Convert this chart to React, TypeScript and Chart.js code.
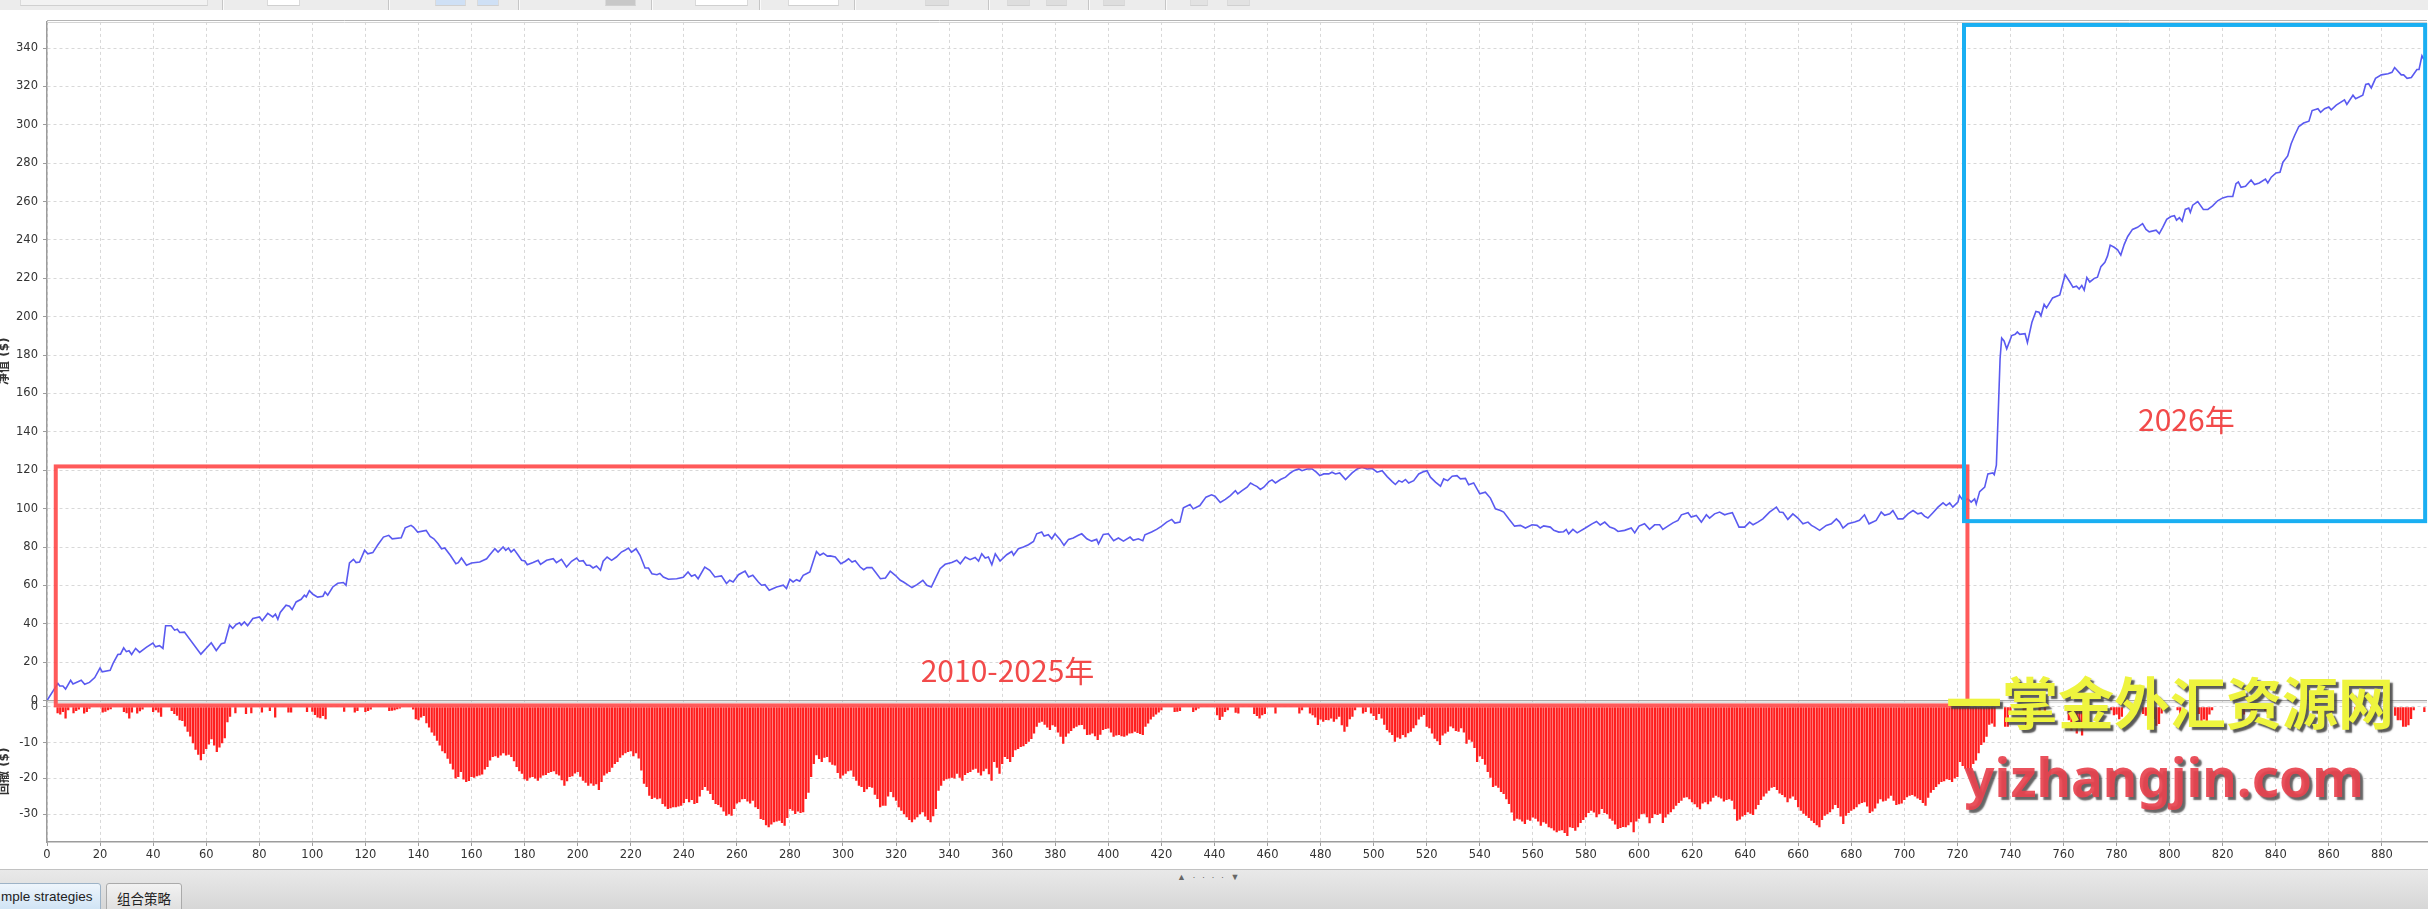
import React, { useEffect, useRef } from "react";
import { Chart, registerables } from "chart.js";

Chart.register(...registerables);

// ---------- data ----------
// equity curve: [trade number, net value $]
const equityCurve: [number, number][] = [
  [0,0],[4.1,9],[4.8,7.6],[6,7.6],[7,6],[8.9,10.6],[9.8,8.7],[12.9,10.6],[14.2,8.5],[16,9.5],[18,12],[20,17],[20.8,15],[23.8,15.8],[24.9,19.4],[26.7,24],[27.7,24.2],[28.9,27.5],[29.9,25.5],[30.9,26],[31.9,24],[33.4,27.2],[34.9,25.1],[37.4,27.7],[39.9,30],[40.9,28],[42.4,28.6],[43.7,27.2],[44.7,39],[46.8,39],[48.1,36.7],[49.1,37.2],[50,35.5],[51.8,35.7],[58,24.2],[61.9,30.1],[63.8,26.1],[65.7,29.6],[67,30.1],[68.8,39.3],[70,37.6],[71.3,39.7],[72.6,40.5],[73.2,39.3],[74.4,41],[75.6,39],[77.6,42.8],[80.1,43.6],[81.1,41.6],[83.2,45.4],[85.1,43.6],[86.1,45],[87,42.3],[87.9,45.9],[90.1,49.7],[91.4,49.2],[92.4,47.4],[93.9,51.4],[95.8,52.8],[97,54.9],[97.7,54],[98.9,57.3],[100.2,55.4],[102,53.9],[104,54.4],[104.8,56.6],[105.8,54.9],[107.7,59.2],[109.6,61.1],[111.7,61.5],[112.7,60.1],[114,71.7],[115.5,73.6],[116.5,71.9],[117.8,72.2],[119.7,78.3],[120.9,76.5],[122.8,77.1],[124.7,81.2],[126.8,85.2],[128.8,86.1],[130.1,84.3],[133.5,84.8],[135,90],[137.2,91.3],[138.1,90.4],[139.7,87.8],[142.9,88.7],[144.4,85.5],[145.8,84.3],[147.4,81.7],[148.7,79.1],[149.9,79.5],
  [152,75.7],[154.1,71.3],[155,71.9],[156.2,74.3],[158.1,70.5],[160,71.7],[163.1,72.2],[165.7,73.9],[166.9,76],[168.8,79.1],[170,77.4],[171.9,80],[172.9,78.3],[173.9,79.5],[174.9,77.4],[176,78.8],[177.6,75.7],[178.9,73.1],[180.1,72.7],[181,70.8],[183.2,71.9],[185.1,73.1],[186,71],[188.3,73.1],[190.8,73.9],[192,71.9],[193.9,73.6],[195.8,69.6],[197.7,72.6],[199.6,74.3],[200.6,72.6],[202.1,72.9],[203.3,70.5],[204.6,70.5],[205.8,69.1],[207.1,70.1],[208.6,67.9],[209.6,72.6],[211.1,74.8],[212.8,73.1],[214.6,74.8],[216.5,77.4],[217.8,78.3],[219.1,79.5],[220.3,77.4],[222,79.1],[223.5,75.7],[225.4,69.1],[226.7,69.1],[228,66.1],[229.9,65.6],[231,66.3],[232.3,64.4],[234.2,63.2],[237.3,63.5],[239.8,64.2],[241.6,67],[242.9,64.8],[244.2,65.6],[245.4,63.5],[247.9,69.6],[249.8,67.9],[251.7,64.4],[254.2,65],[256.1,61],[257.3,62.7],[258.6,61.8],[260.6,65.6],[263.1,67.5],[264.4,64.4],[266,65.3],[268.1,61.8],[269.3,60.1],[270.6,60.4],[272.2,57.5],[275,59.2],[277.5,60.1],[278.7,58.4],[280,63.2],[281.2,61.8],[282.5,63],[283.7,62.2],[285,65.3],[286.2,66.1],[287.5,67],[288.8,72.6],[290,77.7],[291.3,75.7],[292.6,76.8],[294.1,75.3],[295.2,75.4],[297.1,74.8],[299.2,71.3],
  [300.9,72.6],[302.1,73.9],[303.4,72.2],[304.6,72.9],[306.5,69.6],[307.8,68.2],[309,69.3],[310.9,69.3],[312.2,67],[314.1,63.5],[316,63.9],[317.8,67.4],[319.7,65.3],[321.6,62.7],[322.8,61.8],[324.3,60.4],[326,58.9],[327.9,60.4],[330.1,62.7],[331.6,60.1],[333.3,59.2],[334.8,63.5],[336.6,68.7],[338.5,71],[341,71.9],[342.9,73.1],[344.2,71.3],[346.1,74.8],[347.9,73.4],[349.8,74.6],[351.1,72.7],[352.3,76.5],[353.6,74.3],[354.8,74.8],[356.1,70.8],[357.4,76.5],[359.2,72.7],[361.7,76],[363.6,77.7],[364.3,75.7],[366.1,79.1],[368,80],[369.9,81.2],[371.8,82.9],[373,86.9],[374.9,87.8],[375.8,85.7],[377.4,86.4],[378.7,84.3],[379.9,86.9],[381.8,84],[383.3,80.9],[385,84],[386.8,84.7],[388.7,86.1],[390,86.9],[391.9,84.3],[393.7,83.1],[395.6,84],[396.3,81.7],[398.1,86.6],[400,86.9],[402,83.3],[403.8,84.7],[405.7,83.1],[408.2,85.2],[409.4,83.5],[411.3,84.3],[413,83.3],[413.8,86.4],[416.3,87.8],[418.2,89.2],[420.1,90.9],[422,93],[423.9,94.4],[425.1,92.5],[427,93],[428.3,100.4],[430.8,102.2],[432,99.9],[434.5,101.6],[436.8,106],[438.9,107.2],[440.2,106.5],[442.2,103.2],[444.1,104.8],[446,106.8],[447.9,109.4],[448.8,107.7],
  [450.4,109.4],[452.3,111.2],[453.6,113.4],[454.8,112.4],[456.1,111.5],[457.3,110],[458.6,111.2],[460.5,114.1],[461.7,115],[463,113.4],[464.9,115.2],[466.8,116.4],[468.6,118.6],[469.9,119.8],[471.8,120.7],[473,119.8],[474.9,120.7],[476.8,120.7],[478.4,119],[479.7,117.2],[481.2,118.1],[483.1,118.1],[484.3,119],[485.6,118.1],[487.2,118.6],[489.4,115.2],[491.9,118.6],[493.8,120.7],[495.6,121.6],[497.5,120.7],[499.4,121],[501.3,119],[503.2,119.8],[505.1,116.7],[507,114.1],[508.2,112.6],[509.5,114.6],[510.7,113.8],[512,115.2],[513.2,113.4],[515.1,114.6],[517,118.1],[518.9,119.3],[520.1,119.8],[521.4,116.4],[523.3,113.8],[525.2,111.7],[526.4,115.5],[527.9,114.6],[529.6,116.9],[531.4,117.2],[532.7,115.5],[534.6,115.8],[535.8,112.4],[537.7,113.4],[540,107.7],[542.1,108.6],[544,105.5],[545.9,99.9],[547.8,99],[549,98.2],[550.9,94.7],[553.1,90.9],[555.3,91.3],[557.2,89.9],[559.7,91.6],[561.6,91.3],[562.8,89.9],[564.1,91],[566.6,90.4],[567.9,88.7],[569.8,87.8],[571.6,88],[572.6,89.2],[573.5,86.9],[575.1,89.2],[576.7,87.4],[579.8,89.9],[582.3,92.1],[584,93.3],[585.4,91.5],[587.1,93],[589,90.4],[590.8,89.5],[592.1,88.1],[594.6,88.7],[597.1,89.9],[598.4,87.4],
  [600,90.9],[602.1,92.1],[604,89.2],[605.9,91.6],[607.8,91.6],[609,89.2],[610.9,90.9],[612.8,92.6],[614.7,93.9],[616,96.8],[618.5,97.9],[619.7,95.6],[621.6,96.5],[623.5,93],[625.4,96.8],[626.6,95.1],[628.5,97.3],[630.4,98.2],[632.3,96.8],[633.5,97.3],[635.2,97.9],[637.7,90.4],[639.8,90.4],[641.7,93],[643,91.6],[644.8,93],[646.7,94.7],[649.2,98.2],[651.8,100.8],[653,98.2],[654.3,98],[656.1,94.4],[658,97.3],[659.9,95.1],[661.8,92.1],[663.7,93],[665,91.3],[666.2,90.4],[668.1,88.7],[670.6,91.3],[672.5,92.1],[674.4,94.7],[675.6,93],[676.9,89.9],[678.8,92.1],[681.3,93],[683.1,93.9],[685,96.8],[686.7,92.1],[689.4,93.9],[691.3,98.2],[692.6,96.5],[694.5,97.3],[695.7,99],[697.6,94.7],[699.5,94.7],[701.4,97.3],[703.3,99],[705.1,97.3],[706.4,97.8],[707.6,96.1],[708.9,95.1],[710.8,97.9],[712.7,100.8],[714.6,103],[715.8,101.6],[717.1,103],[718.3,100.8],[720.2,103.4],[720.8,106.8],[722.1,104.3],[724,105.1],[725.2,103.4],[726.5,105.1],[727.1,102.5],[728.4,108.9],[730.3,111.2],[731.5,118.1],[733.4,118.6],[733.9,117.7],[734.7,122.7],
  [735.5,154],[736.1,178.1],[736.7,188.9],[737.6,187.4],[738.6,183.3],[740.5,190.2],[741.8,190.8],[742.6,192.1],[743.5,190.8],[745.5,191.2],[746.4,186.5],[748.1,197.1],[749.6,202.7],[750.8,202.3],[751.5,200.5],[752.7,206.4],[753.6,204.6],[755.9,209.8],[758.6,211.3],[760.6,221.9],[762.4,218.1],[763.6,215.3],[764.9,215.9],[765.9,214.4],[766.9,216.3],[767.8,213.9],[768.8,220.4],[769.9,218.1],[771.6,220],[772.8,220.6],[774.1,226.1],[775.6,228.4],[776.6,231.7],[777.6,237.3],[779.1,236.2],[780.4,234.9],[781.6,232.1],[782.9,237.7],[784.2,241.8],[786,245.5],[787.9,246.6],[789.8,248.5],[791.1,245.5],[792.3,244.2],[794.9,245.1],[796.1,243.3],[797.4,246.6],[798.9,250.7],[800.5,252.2],[801.8,252.6],[802.6,250.3],[803.7,251.6],[804.7,249.8],[805.9,255.9],[807.2,256.6],[807.8,254.4],[808.7,258.1],[810.6,260],[812.7,255.9],[814.4,255.9],[816.2,257.8],[818.1,260.4],[820,261.9],[821.9,262.6],[823.8,262.6],[825,269.3],[825.9,270.2],[826.9,267.4],[828.6,268],[830.7,271.2],[832,268.9],[833.8,269.7],[836.1,271.7],[837,269.7],[838.3,272.7],[840.1,274.9],[841.6,275.3],[842.7,280.5],[844.5,283.8],[845.8,290.1],[847.1,294.4],[848.7,299.1],[850.5,300.9],[852.5,301.9],[853.7,307.4],[855.9,308.4],[856.9,306.5],[858.4,308.4],[860,309.3],[860.9,307.8],[862.8,310.2],[865.9,313],[866.8,310.6],[869.1,315.4],[870.1,313.6],[872.8,315.4],[873.9,321],[875,321.4],[876,319.2],[877.6,324.2],[879.8,326],[882.3,326.6],[883.8,327.3],[884.8,329.8],[887.3,326],[888.2,326],[889.5,324.2],[891.1,324.6],[893.2,328.8],[894,328.8],[895.1,335.9],[895.7,334.4],[896.7,336.3],
];

// drawdown per trade ($), index = trade number 0..896
const drawdown: number[] = [
  0,0,0,0,-1.8,-2.2,-1.5,-3.3,-1.0,0,
  -1.8,-1.2,-0.8,0,-1.9,-1.5,-0.6,0,0,0,
  0,-1.6,-1.4,-1.0,-0.7,0,0,0,0,-1.5,
  -1.8,-3.3,-1.6,0,-1.9,-1.3,-0.8,0,0,0,
  -1.5,-1.0,-1.6,-2.8,0,0,0,-1.2,-2.0,-2.5,
  -3.8,-4.0,-5.5,-7.0,-8.3,-10.2,-12.0,-13.4,-14.9,-13.2,
  -11.8,-10.5,-9.1,-10.8,-12.6,-11.4,-10.2,-8.8,-4.3,-2.8,
  0,-1.8,0,0,0,-2.0,0,-1.8,0,0,
  0,-1.6,0,0,-1.2,0,-3.0,0,0,0,
  0,-1.6,-1.6,0,0,0,0,0,-1.5,0,
  -1.4,-2.3,-3.0,-3.2,-2.6,-3.5,0,0,0,0,
  0,0,-1.4,0,0,0,-1.6,-1.2,0,0,
  -1.5,-1.2,-0.8,0,0,0,0,0,0,-1.2,
  -1.1,-1.0,-0.7,-0.5,0,0,0,0,-0.8,-3.5,
  -3.8,-3.0,-2.6,-4.6,-5.8,-7.2,-8.1,-9.5,-10.8,-12.4,
  -13.0,-14.5,-15.9,-17.5,-20.0,-19.6,-18.2,-20.3,-21.0,-20.7,
  -19.6,-19.8,-19.4,-19.2,-18.9,-17.5,-16.8,-15.0,-14.0,-13.8,
  -14.2,-13.6,-13.0,-13.6,-13.4,-14.0,-15.2,-16.8,-18.0,-18.7,
  -20.2,-20.6,-19.8,-19.6,-20.0,-20.6,-19.8,-19.2,-19.0,-18.5,
  -18.2,-18.0,-18.8,-19.2,-20.5,-22.0,-20.8,-19.6,-19.4,-18.6,
  -18.2,-19.5,-20.6,-21.2,-22.0,-21.4,-22.0,-21.6,-23.2,-21.0,
  -19.2,-18.6,-18.2,-17.0,-16.0,-15.4,-14.2,-13.5,-13.0,-12.6,
  -12.4,-13.8,-13.0,-14.4,-17.8,-21.5,-22.4,-24.8,-25.7,-25.4,
  -25.8,-25.6,-27.1,-27.8,-28.5,-28.3,-28.0,-28.0,-27.8,-27.6,
  -26.8,-25.7,-26.6,-26.0,-27.1,-26.8,-25.0,-23.2,-22.4,-23.4,
  -24.3,-26.0,-27.1,-27.4,-28.0,-29.2,-30.4,-30.0,-30.4,-28.5,
  -27.0,-26.6,-25.8,-25.7,-26.4,-27.0,-26.2,-28.0,-28.5,-31.3,
  -31.6,-33.0,-33.6,-32.8,-32.2,-32.0,-31.8,-32.4,-33.2,-31.0,
  -28.5,-29.0,-29.9,-29.2,-29.6,-29.4,-25.7,-24.0,-19.6,-16.0,
  -13.5,-14.6,-15.4,-14.2,-14.0,-15.5,-16.2,-16.4,-18.5,-20.0,
  -19.2,-18.7,-18.0,-17.8,-19.5,-20.6,-22.0,-22.4,-23.8,-23.0,
  -22.4,-22.6,-24.5,-25.7,-28.0,-27.6,-27.6,-25.0,-23.8,-25.2,
  -26.2,-28.0,-29.0,-30.0,-30.8,-31.6,-32.2,-31.4,-30.8,-30.0,
  -29.4,-30.6,-31.6,-32.2,-30.5,-28.5,-23.4,-22.0,-20.6,-20.2,
  -20.0,-19.8,-20.0,-18.7,-19.8,-20.6,-19.0,-18.5,-18.2,-17.6,
  -17.3,-18.4,-19.2,-18.0,-17.3,-18.8,-20.6,-15.4,-17.0,-18.7,
  -16.0,-14.0,-14.6,-15.4,-14.0,-12.1,-11.8,-11.2,-11.0,-10.4,
  -9.8,-9.0,-7.5,-5.6,-4.5,-4.2,-5.0,-5.8,-6.5,-5.2,
  -5.6,-7.2,-8.4,-10.3,-8.4,-7.5,-6.8,-6.0,-5.6,-5.2,
  -5.1,-6.3,-7.9,-7.8,-7.5,-8.2,-9.3,-7.8,-6.5,-6.2,
  -6.1,-7.2,-8.4,-8.0,-7.9,-8.2,-8.4,-8.0,-7.5,-7.4,
  -7.0,-7.3,-7.6,-7.9,-5.6,-4.7,-3.6,-2.8,-2.2,-1.6,
  -1.0,0,0,0,0,-1.5,-1.4,-1.2,0,0,
  0,0,-1.5,-1.0,-0.5,0,0,0,0,0,
  0,-2.4,-3.7,-2.8,-1.5,-1.0,0,0,-1.7,-1.9,
  0,0,0,0,0,-2.0,-2.6,-3.3,-2.4,-2.0,
  0,0,0,-1.9,0,0,0,0,0,0,
  0,0,-1.9,-1.0,0,0,-1.9,-2.4,-3.0,-5.1,
  -3.6,-4.2,-3.7,-3.8,-3.3,-4.2,-3.5,-2.8,-5.2,-7.0,
  -5.6,-3.5,-2.8,-1.0,0,0,-1.9,-1.5,0,-1.9,
  -2.6,-3.7,-2.0,-3.3,-5.0,-6.5,-7.2,-7.9,-9.8,-8.6,
  -8.9,-7.9,-8.5,-7.4,-7.0,-6.0,-5.2,-3.6,-2.8,-2.3,
  -5.6,-6.0,-7.5,-8.9,-9.6,-10.7,-8.0,-7.5,-7.0,-5.5,
  -6.0,-6.8,-7.0,-6.0,-7.2,-10.3,-9.2,-9.8,-11.5,-15.4,
  -13.8,-14.6,-16.2,-18.2,-19.8,-22.4,-22.0,-22.6,-23.8,-24.3,
  -25.8,-27.1,-29.5,-31.8,-31.2,-31.4,-32.0,-32.7,-31.5,-31.8,
  -30.9,-31.2,-32.0,-33.2,-32.2,-32.6,-33.6,-33.9,-34.5,-35.0,
  -34.6,-34.4,-35.2,-36.0,-33.6,-33.8,-34.6,-33.6,-32.4,-31.6,
  -30.8,-29.6,-29.0,-29.5,-30.8,-30.0,-28.5,-29.6,-30.0,-31.2,
  -31.8,-32.8,-34.1,-33.8,-33.5,-33.6,-33.0,-32.2,-35.0,-32.0,
  -31.2,-30.0,-29.8,-30.8,-32.5,-31.0,-30.0,-30.2,-29.8,-32.4,
  -30.9,-30.0,-29.4,-28.6,-27.6,-26.8,-26.2,-25.4,-25.2,-25.8,
  -26.6,-27.2,-28.0,-28.6,-27.0,-26.6,-27.2,-26.4,-25.4,-24.8,
  -25.2,-25.6,-26.4,-26.0,-25.8,-26.2,-28.6,-31.8,-31.4,-30.6,
  -30.2,-29.4,-29.8,-30.2,-28.6,-27.4,-26.0,-25.0,-24.2,-23.4,
  -22.6,-22.4,-23.2,-24.2,-24.6,-25.2,-26.6,-25.6,-25.0,-26.0,
  -28.0,-29.0,-29.8,-30.4,-31.0,-31.8,-32.4,-33.0,-33.6,-31.6,
  -30.4,-30.0,-29.4,-28.6,-27.4,-28.2,-30.6,-32.7,-30.4,-29.6,
  -29.0,-28.6,-28.0,-27.2,-26.8,-26.6,-27.8,-29.6,-29.2,-28.4,
  -27.0,-25.8,-26.4,-26.2,-25.6,-24.8,-26.2,-27.4,-27.2,-27.0,
  -26.0,-25.2,-24.8,-24.6,-25.0,-25.6,-26.0,-26.8,-27.6,-25.4,
  -24.0,-23.2,-22.4,-21.6,-21.0,-20.8,-20.2,-20.4,-21.0,-20.0,
  -19.6,-15.4,-16.5,-17.2,-18.0,-18.8,-16.0,-15.0,-13.0,-10.7,
  -10.0,-8.4,-5.0,-4.7,-5.6,0,0,0,-5.6,-5.6,
  -2.0,0,0,0,0,-1.2,-5.6,0,0,0,
  0,-2.2,0,-1.8,0,0,0,0,0,0,
  0,0,-3.8,-6.6,-6.0,-7.5,-5.6,-8.0,-1.5,-1.8,
  0,0,0,0,0,0,0,0,-1.0,-2.4,
  -2.2,-3.5,-2.8,0,0,0,0,0,0,0,
  -2.0,-2.5,-3.9,-4.3,-3.4,-5.3,-4.8,-1.9,0,0,
  0,0,0,-1.0,-2.8,0,0,0,-2.2,0,
  0,-2.0,-4.1,-3.6,-4.1,-2.2,-1.0,0,0,0,
  0,0,0,0,0,0,0,-2.8,-2.2,0,
  0,-2.3,-1.5,0,0,0,-1.2,-2.0,0,0,
  0,0,0,0,0,0,0,0,0,0,
  0,0,0,0,0,0,-1.9,0,0,0,
  0,-1.5,0,0,0,0,-2.4,0,0,0,
  -1.8,0,0,0,0,0,-2.2,0,0,0,
  0,0,0,0,0,-2.5,-3.8,-3.8,-5.6,-5.6,
  -5.2,-3.4,-1.0,0,0,0,-1.5,
];

const xTickValues = [0,20,40,60,80,100,120,140,160,180,200,220,240,260,280,300,320,340,360,380,400,420,440,460,480,500,520,540,560,580,600,620,640,660,680,700,720,740,760,780,800,820,840,860,880];
const equityTickValues = [0,20,40,60,80,100,120,140,160,180,200,220,240,260,280,300,320,340];
const drawdownTickValues = [-30,-20,-10,0];

const equityTitle = "净值 ($)";
const drawdownTitle = "回撤 ($)";
const periodLabels = ["2010-2025年", "2026年"];
const watermarkCn = "一掌金外汇资源网";
const watermarkEn = "yizhangjin.com";
const tabLabels = ["mple strategies", "组合策略"];

// ---------- styling / layout ----------
const TICK_FONT = "'DejaVu Sans', 'Noto Sans', sans-serif";
const CJK_FONT = "'Noto Sans CJK SC', 'Noto Sans', sans-serif";
const LINE_COLOR = "#5a5af0";
const BAR_COLOR = "#ff1e1e";
const GRID_COLOR = "#d8d8d8";
const AXIS_COLOR = "#9c9c9c";

// annotation frames in data coordinates (trade number / $ on the equity axis)
const periodFrames = [
  { from: 3.3, to: 723.8, low: -2.5, high: 122, color: "rgba(255,72,72,0.9)" },
  { from: 722.5, to: 896.3, low: 93.5, high: 352, color: "#1aaff2" },
];
const periodLabelAnchors = [
  { x: 362, y: 15.7 },
  { x: 806.3, y: 146.5 },
];

const overlayPlugin = {
  id: "overlay",
  beforeDraw(chart: any) {
    const { ctx, width, height } = chart;
    ctx.save();
    ctx.fillStyle = "#ffffff";
    ctx.fillRect(0, 0, width, height);
    ctx.restore();
  },
  afterDraw(chart: any) {
    const { ctx, chartArea, scales } = chart;
    const x = scales.x;
    const y = scales.y;
    const dd = scales.yDD;
    ctx.save();

    // plot frame top (double gray line)
    ctx.strokeStyle = "#b4b4b4";
    ctx.lineWidth = 1;
    ctx.beginPath();
    ctx.moveTo(chartArea.left, Math.round(chartArea.top) - 1.5);
    ctx.lineTo(chartArea.right, Math.round(chartArea.top) - 1.5);
    ctx.stroke();
    ctx.strokeStyle = "#d4d4d4";
    ctx.beginPath();
    ctx.moveTo(chartArea.left, Math.round(chartArea.top) + 0.5);
    ctx.lineTo(chartArea.right, Math.round(chartArea.top) + 0.5);
    ctx.stroke();

    // separator between the two panes
    ctx.strokeStyle = "#a8a8a8";
    ctx.lineWidth = 1.2;
    ctx.beginPath();
    ctx.moveTo(chartArea.left, y.bottom);
    ctx.lineTo(chartArea.right, y.bottom);
    ctx.stroke();
    ctx.strokeStyle = "#dcdcdc";
    ctx.lineWidth = 1;
    ctx.beginPath();
    ctx.moveTo(chartArea.left, y.bottom + 2);
    ctx.lineTo(chartArea.right, y.bottom + 2);
    ctx.stroke();

    // period frames
    ctx.lineWidth = 4;
    for (const f of periodFrames) {
      const x0 = x.getPixelForValue(f.from);
      const x1 = x.getPixelForValue(f.to);
      const y0 = y.getPixelForValue(f.high);
      const y1 = y.getPixelForValue(f.low);
      ctx.strokeStyle = f.color;
      ctx.strokeRect(x0, y0, x1 - x0, y1 - y0);
    }

    // period labels
    ctx.fillStyle = "#f24a4a";
    ctx.font = `30px ${CJK_FONT}`;
    ctx.textAlign = "center";
    ctx.textBaseline = "middle";
    periodLabels.forEach((t, i) => {
      const a = periodLabelAnchors[i];
      ctx.fillText(t, x.getPixelForValue(a.x), y.getPixelForValue(a.y));
    });

    // axis titles (rotated, partly cut by the left edge)
    ctx.fillStyle = "#333333";
    ctx.font = `bold 12px ${TICK_FONT}, 'Noto Sans CJK SC'`;
    ctx.textAlign = "center";
    ctx.textBaseline = "alphabetic";
    const drawTitle = (text: string, cy: number) => {
      ctx.save();
      ctx.translate(8, cy);
      ctx.rotate(-Math.PI / 2);
      ctx.fillText(text, 0, 0);
      ctx.restore();
    };
    drawTitle(equityTitle, (y.top + y.bottom) / 2);
    drawTitle(drawdownTitle, (dd.top + dd.bottom) / 2);

    // watermark
    ctx.textAlign = "center";
    ctx.shadowColor = "rgba(60,60,60,0.85)";
    ctx.shadowOffsetX = 3;
    ctx.shadowOffsetY = 3;
    ctx.shadowBlur = 1.5;
    ctx.font = `bold 56px ${CJK_FONT}`;
    ctx.fillStyle = "#eef43e";
    ctx.textBaseline = "middle";
    ctx.fillText(watermarkCn, x.getPixelForValue(800.1), y.getPixelForValue(-1));
    ctx.font = `bold 53px 'Noto Sans', 'Open Sans', sans-serif`;
    ctx.fillStyle = "rgba(232,66,78,0.92)";
    ctx.textBaseline = "alphabetic";
    ctx.fillText(watermarkEn, x.getPixelForValue(797.9), dd.getPixelForValue(-25.2));

    ctx.restore();
  },
};

function buildConfig(): any {
  const tickFont = { family: TICK_FONT, size: 11.5 };
  return {
    type: "line",
    data: {
      datasets: [
        {
          type: "bar",
          label: "回撤",
          data: drawdown.map((v, i) => ({ x: i, y: v })),
          xAxisID: "x",
          yAxisID: "yDD",
          backgroundColor: BAR_COLOR,
          borderWidth: 0,
          categoryPercentage: 1,
          barPercentage: 0.86,
          order: 2,
        },
        {
          type: "line",
          label: "净值",
          data: equityCurve.map(([t, v]) => ({ x: t, y: v })),
          xAxisID: "x",
          yAxisID: "y",
          borderColor: LINE_COLOR,
          borderWidth: 1.6,
          pointRadius: 0,
          tension: 0,
          fill: false,
          order: 1,
        },
      ],
    },
    options: {
      responsive: false,
      animation: false,
      events: [],
      layout: { padding: { top: 8.5, right: 1, bottom: 0, left: 0 } },
      plugins: { legend: { display: false }, tooltip: { enabled: false }, title: { display: false } },
      scales: {
        x: {
          type: "linear",
          position: "bottom",
          min: 0,
          max: 897,
          offset: false,
          afterBuildTicks: (s: any) => {
            s.ticks = xTickValues.map((v) => ({ value: v }));
          },
          afterFit: (s: any) => {
            s.height = 27;
          },
          ticks: { font: tickFont, color: "#333", padding: 2, maxRotation: 0, autoSkip: false },
          grid: { color: GRID_COLOR, lineWidth: 1, offset: false, tickLength: 4, tickColor: AXIS_COLOR, tickBorderDash: [] },
          border: { color: AXIS_COLOR, width: 1.5, dash: [3, 3] },
        },
        yDD: {
          type: "linear",
          position: "left",
          stack: "panes",
          stackWeight: 1,
          weight: 1,
          min: -37.7,
          max: 1.7,
          afterBuildTicks: (s: any) => {
            s.ticks = drawdownTickValues.map((v) => ({ value: v }));
          },
          afterFit: (s: any) => {
            s.width = 47;
          },
          ticks: { font: tickFont, color: "#333", padding: 5 },
          grid: { color: GRID_COLOR, lineWidth: 1, tickLength: 4, tickColor: AXIS_COLOR, tickBorderDash: [] },
          border: { color: AXIS_COLOR, width: 1.5, dash: [3, 3] },
        },
        y: {
          type: "linear",
          position: "left",
          stack: "panes",
          stackWeight: 4.8,
          weight: 2,
          min: 0,
          max: 353.6,
          afterBuildTicks: (s: any) => {
            s.ticks = equityTickValues.map((v) => ({ value: v }));
          },
          afterFit: (s: any) => {
            s.width = 47;
          },
          ticks: { font: tickFont, color: "#333", padding: 5 },
          grid: { color: GRID_COLOR, lineWidth: 1, tickLength: 4, tickColor: AXIS_COLOR, tickBorderDash: [] },
          border: { color: AXIS_COLOR, width: 1.5, dash: [3, 3] },
        },
      },
    },
    plugins: [overlayPlugin],
  };
}

// toolbar decorations (page pixels)
const toolbarSeparators = [222, 388, 518, 651, 759, 854, 988, 1088, 1165];
const toolbarBoxes = [
  { l: 20, w: 186, c: "#f2f2f2" },
  { l: 267, w: 31, c: "#ffffff" },
  { l: 435, w: 29, c: "#cfe0f5" },
  { l: 477, w: 20, c: "#cfe0f5" },
  { l: 605, w: 29, c: "#c8c8c8" },
  { l: 695, w: 51, c: "#ffffff" },
  { l: 788, w: 49, c: "#ffffff" },
  { l: 925, w: 22, c: "#dedede" },
  { l: 1007, w: 21, c: "#dedede" },
  { l: 1046, w: 19, c: "#dedede" },
  { l: 1103, w: 20, c: "#dedede" },
  { l: 1190, w: 16, c: "#e2e2e2" },
  { l: 1227, w: 21, c: "#e2e2e2" },
];

export default function App() {
  const canvasRef = useRef<HTMLCanvasElement>(null);

  useEffect(() => {
    document.body.style.margin = "0";
    const canvas = canvasRef.current;
    if (!canvas) return;
    const chart = new Chart(canvas, buildConfig());
    return () => chart.destroy();
  }, []);

  return (
    <div
      style={{
        position: "fixed",
        left: 0,
        top: 0,
        width: 2428,
        height: 909,
        overflow: "hidden",
        background: "#ffffff",
        fontFamily: "'Liberation Sans', Arial, sans-serif",
      }}
    >
      {/* top toolbar strip */}
      <div style={{ position: "absolute", left: 0, top: 0, width: 2428, height: 10, background: "#ececec", borderBottom: "1px solid #e0e0e0" }}>
        {toolbarBoxes.map((b, i) => (
          <div key={"b" + i} style={{ position: "absolute", left: b.l, top: 0, width: b.w, height: 5, background: b.c, borderBottom: "1px solid #d0d0d0", borderLeft: "1px solid #dadada", borderRight: "1px solid #dadada" }} />
        ))}
        {toolbarSeparators.map((s, i) => (
          <div key={"s" + i} style={{ position: "absolute", left: s, top: 0, width: 1, height: 10, background: "#c6c6c6", boxShadow: "1px 0 0 #fafafa" }} />
        ))}
      </div>

      <canvas
        ref={canvasRef}
        width={2428}
        height={859}
        style={{ position: "absolute", left: 0, top: 10, width: 2428, height: 859, display: "block" }}
      />

      {/* bottom strip with tabs */}
      <div
        style={{
          position: "absolute",
          left: 0,
          top: 869,
          width: 2428,
          height: 40,
          background: "linear-gradient(#e9e9e9, #d6d6d6)",
          borderTop: "1px solid #c2c2c2",
        }}
      >
        <div style={{ position: "absolute", left: 1177, top: 2, fontSize: 9, color: "#666", letterSpacing: 2, whiteSpace: "nowrap" }}>
          ▲ · · · · ▼
        </div>
        <div
          style={{
            position: "absolute",
            left: -4,
            top: 13,
            width: 105,
            height: 30,
            background: "linear-gradient(#eef5fc, #cde2f4)",
            border: "1px solid #9db3c7",
            borderRadius: "3px 3px 0 0",
            boxSizing: "border-box",
          }}
        >
          <span style={{ position: "absolute", left: 4, top: 5, fontSize: 13.5, color: "#222", whiteSpace: "nowrap" }}>{tabLabels[0]}</span>
        </div>
        <div
          style={{
            position: "absolute",
            left: 106,
            top: 13,
            width: 76,
            height: 30,
            background: "linear-gradient(#f2f2f2, #dedede)",
            border: "1px solid #aaaaaa",
            borderRadius: "3px 3px 0 0",
            boxSizing: "border-box",
          }}
        >
          <span style={{ position: "absolute", left: 10, top: 4, fontSize: 13.5, color: "#222", whiteSpace: "nowrap", fontFamily: CJK_FONT }}>{tabLabels[1]}</span>
        </div>
      </div>
    </div>
  );
}
